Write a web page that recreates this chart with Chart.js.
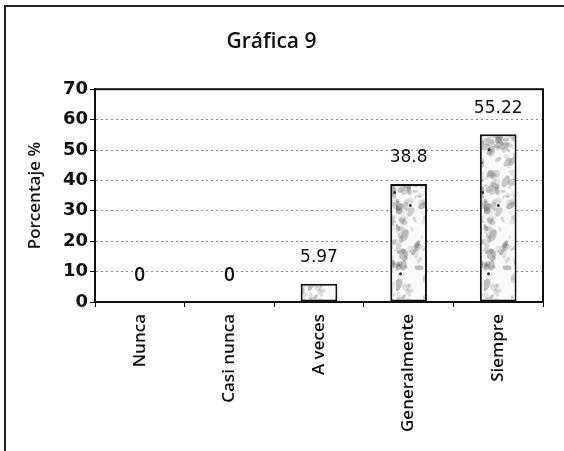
<!DOCTYPE html>
<html>
<head>
<meta charset="utf-8">
<script src="https://cdn.jsdelivr.net/npm/chart.js@4"></script>
<style>
  html, body { margin: 0; padding: 0; background: #fff; }
  #wrap { width: 564px; height: 451px; }
</style>
</head>
<body>
<div id="wrap"><canvas id="grafica9" width="564" height="451"></canvas></div>
<script>
// Gráfica 9 - respuestas en porcentaje
const categorias = ['Nunca', 'Casi nunca', 'A veces', 'Generalmente', 'Siempre'];
const porcentajes = [0, 0, 5.97, 38.8, 55.22];
const etiquetas = ['0', '0', '5.97', '38.8', '55.22'];
const yTicks = [0, 10, 20, 30, 40, 50, 60, 70];

const comic = '"Open Sans", "Noto Sans", sans-serif';

// textura moteada de las barras (semilla fija)
function texturaBarras() {
    const c = document.createElement('canvas');
    c.width = 44; c.height = 170;
    const g = c.getContext('2d');
    g.fillStyle = '#fafafa';
    g.fillRect(0, 0, c.width, c.height);
    let s = 98765;
    const rnd = () => { s = (s * 1103515245 + 12345) % 2147483648; return s / 2147483648; };
    for (let i = 0; i < 170; i++) {
        const x = rnd() * c.width, y = rnd() * c.height;
        const r = 0.8 + rnd() * 3.2;
        const v = Math.floor(90 + rnd() * 120);
        g.fillStyle = 'rgba(' + v + ',' + v + ',' + v + ',0.4)';
        g.beginPath();
        g.ellipse(x, y, r * 1.8, r, rnd() * 3, 0, Math.PI * 2);
        g.fill();
    }
    for (let i = 0; i < 6; i++) {
        g.fillStyle = '#333';
        g.beginPath();
        g.arc(rnd() * c.width, rnd() * c.height, 1.5, 0, Math.PI * 2);
        g.fill();
    }
    return g.createPattern(c, 'repeat');
}

const marco = {
    id: 'marco',
    beforeDraw(chart) {
        const g = chart.ctx;
        g.save();
        g.fillStyle = '#fff';
        g.fillRect(0, 0, chart.width, chart.height);
        g.strokeStyle = '#222';
        g.lineWidth = 2;
        g.beginPath();
        g.moveTo(5, 451); g.lineTo(5, 6); g.lineTo(564, 6);
        g.stroke();
        g.restore();
    },
    afterDatasetsDraw(chart) {
        const a = chart.chartArea;
        const g = chart.ctx;
        g.save();
        g.strokeStyle = '#111';
        g.lineWidth = 2;
        g.strokeRect(a.left, a.top, a.right - a.left, a.bottom - a.top);
        // etiquetas de datos
        const meta = chart.getDatasetMeta(0);
        g.fillStyle = '#111';
        g.textAlign = 'center';
        g.textBaseline = 'middle';
        meta.data.forEach((bar, i) => {
            if (porcentajes[i] === 0) {
                g.font = '600 19px ' + comic;
            } else {
                g.font = '17px "DejaVu Sans", sans-serif';
            }
            g.fillText(etiquetas[i], bar.x, bar.y - 26);
        });
        g.restore();
    }
};

function dibujar() {
    const ctx = document.getElementById('grafica9').getContext('2d');
    new Chart(ctx, {
        type: 'bar',
        data: {
            labels: categorias,
            datasets: [{
                data: porcentajes,
                backgroundColor: texturaBarras(),
                borderColor: '#111',
                borderWidth: 2,
                borderSkipped: false,
                categoryPercentage: 1,
                barPercentage: 0.41
            }]
        },
        options: {
            responsive: false,
            animation: false,
            layout: { padding: { left: 0, right: 21, top: 0, bottom: 0 } },
            plugins: {
                legend: { display: false },
                tooltip: { enabled: false },
                title: {
                    display: true,
                    text: 'Gráfica 9',
                    color: '#111',
                    font: { family: comic, size: 21, weight: '600', lineHeight: 1.2 },
                    padding: { top: 29, bottom: 35 }
                }
            },
            scales: {
                x: {
                    grid: {
                        offset: true,
                        drawOnChartArea: false,
                        color: '#111',
                        tickLength: 5,
                        lineWidth: 1
                    },
                    border: { display: true, color: '#111', width: 2 },
                    ticks: {
                        color: '#111',
                        font: { family: comic, size: 17, weight: '600' },
                        minRotation: 90,
                        maxRotation: 90,
                        autoSkip: false,
                        padding: 7
                    },
                    afterFit(scale) { scale.height = 149; }
                },
                y: {
                    min: 0,
                    max: 70,
                    afterBuildTicks(scale) { scale.ticks = yTicks.map(v => ({ value: v })); },
                    grid: {
                        color: (c) => (c.tick && (c.tick.value === 0 || c.tick.value === 70)) ? 'rgba(0,0,0,0)' : '#8a8a8a',
                        tickColor: '#111',
                        tickBorderDash: [],
                        tickLength: 5,
                        lineWidth: 1
                    },
                    border: { display: true, color: '#111', width: 2, dash: [2, 3] },
                    ticks: {
                        color: '#111',
                        font: { family: '"DejaVu Sans", sans-serif', size: 18, weight: 'bold' },
                        padding: 2
                    },
                    title: {
                        display: true,
                        text: 'Porcentaje %',
                        color: '#111',
                        font: { family: comic, size: 17, weight: '600' },
                        padding: { top: 25, bottom: 0 }
                    },
                    afterFit(scale) { scale.width = 95; }
                }
            }
        },
        plugins: [marco]
    });
}

Promise.all([
    document.fonts.load('17px "Open Sans"'),
    document.fonts.load('600 17px "Open Sans"'),
    document.fonts.load('bold 18px "DejaVu Sans"'),
    document.fonts.load('17px "DejaVu Sans"')
]).then(dibujar, dibujar);
</script>
</body>
</html>
